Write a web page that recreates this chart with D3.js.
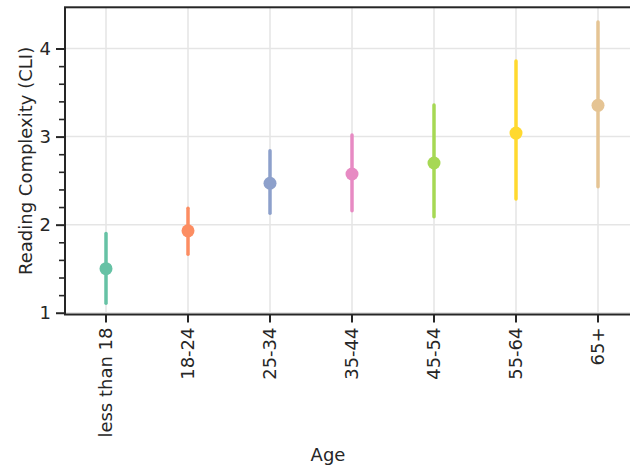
<!DOCTYPE html>
<html>
<head>
<meta charset="utf-8">
<script src="https://cdn.jsdelivr.net/npm/d3@7"></script>
<style>
  html, body { margin: 0; padding: 0; background: #fff; }
  svg { display: block; font-family: "DejaVu Sans", sans-serif; }
</style>
</head>
<body>
<div id="chart"></div>
<script>
// age groups and mean reading complexity with 95% CI
var ageGroups = ["less than 18", "18-24", "25-34", "35-44", "45-54", "55-64", "65+"];
var meanCLI = [1.50, 1.93, 2.47, 2.575, 2.70, 3.04, 3.355];
var ciLow = [1.107, 1.663, 2.13, 2.158, 2.09, 2.29, 2.43];
var ciHigh = [1.90, 2.185, 2.84, 3.018, 3.36, 3.858, 4.30];
var colors = ["#66c2a5", "#fc8d62", "#8da0cb", "#e78ac3", "#a6d854", "#ffd92f", "#e5c494"];
var yTicks = [1, 2, 3, 4];
var yMinorTicks = [1.2, 1.4, 1.6, 1.8, 2.2, 2.4, 2.6, 2.8, 3.2, 3.4, 3.6, 3.8];

var W = 630, H = 467;
var margin = {top: 7.3, left: 65},
    width = 574,
    height = 307.2;
var font = "DejaVu Sans, sans-serif";
var ink = "#262626";

var svg = d3.select("#chart").append("svg")
    .attr("width", W)
    .attr("height", H);

svg.append("rect").attr("width", W).attr("height", H).attr("fill", "#fff");

var g = svg.append("g")
    .attr("transform", "translate(" + margin.left + "," + margin.top + ")");

var x = d3.scaleBand().domain(ageGroups).range([0, width]).padding(0);
var y = d3.scaleLinear().domain([0.98, 4.468]).range([height, 0]);
function cx(d) { return x(d) + x.bandwidth() / 2; }

// grid
g.selectAll(".hgrid").data(yTicks).enter().append("line")
    .attr("x1", 0).attr("x2", width)
    .attr("y1", function(d) { return y(d); })
    .attr("y2", function(d) { return y(d); })
    .attr("stroke", "#e5e5e5").attr("stroke-width", 1.5);
g.selectAll(".vgrid").data(ageGroups).enter().append("line")
    .attr("x1", cx).attr("x2", cx)
    .attr("y1", 0).attr("y2", height)
    .attr("stroke", "#e5e5e5").attr("stroke-width", 1.5);

// error bars
var data = ageGroups.map(function(a, i) {
  return {age: a, mean: meanCLI[i], lo: ciLow[i], hi: ciHigh[i], color: colors[i]};
});

g.selectAll(".ci").data(data).enter().append("line")
    .attr("x1", function(d) { return cx(d.age); })
    .attr("x2", function(d) { return cx(d.age); })
    .attr("y1", function(d) { return y(d.lo); })
    .attr("y2", function(d) { return y(d.hi); })
    .attr("stroke", function(d) { return d.color; })
    .attr("stroke-width", 3.5)
    .attr("stroke-linecap", "round");

g.selectAll(".pt").data(data).enter().append("circle")
    .attr("cx", function(d) { return cx(d.age); })
    .attr("cy", function(d) { return y(d.mean); })
    .attr("r", 6.5)
    .attr("fill", function(d) { return d.color; });

// axes
var yAxis = g.append("g")
    .call(d3.axisLeft(y).tickValues(yTicks).tickFormat(d3.format("d")).tickSize(9).tickPadding(5))
    .attr("font-family", font).attr("font-size", 18);
yAxis.selectAll("text").attr("fill", ink);
yAxis.selectAll("line").attr("stroke", ink).attr("stroke-width", 2);
yAxis.select(".domain").remove();

var yMinor = g.append("g")
    .call(d3.axisLeft(y).tickValues(yMinorTicks).tickFormat("").tickSize(6));
yMinor.selectAll("line").attr("stroke", ink).attr("stroke-width", 1.6);
yMinor.select(".domain").remove();

var xAxis = g.append("g")
    .attr("transform", "translate(0," + height + ")")
    .call(d3.axisBottom(x).tickSize(8))
    .attr("font-family", font).attr("font-size", 18);
xAxis.select(".domain").remove();
xAxis.selectAll("line").attr("stroke", ink).attr("stroke-width", 2);
xAxis.selectAll("text")
    .attr("fill", ink)
    .attr("transform", "rotate(-90)")
    .attr("text-anchor", "end")
    .attr("x", -13).attr("y", 0).attr("dy", "0.35em");

// spines
g.append("rect")
    .attr("x", 0).attr("y", 0).attr("width", width).attr("height", height)
    .attr("fill", "none").attr("stroke", ink).attr("stroke-width", 2);

// labels
svg.append("text")
    .attr("x", margin.left + 263).attr("y", 461)
    .attr("text-anchor", "middle").attr("font-family", font).attr("font-size", 18).attr("fill", ink)
    .text("Age");

svg.append("text")
    .attr("transform", "translate(32," + (margin.top + height / 2) + ") rotate(-90)")
    .attr("text-anchor", "middle").attr("font-family", font).attr("font-size", 18).attr("fill", ink)
    .text("Reading Complexity (CLI)");
</script>
</body>
</html>
